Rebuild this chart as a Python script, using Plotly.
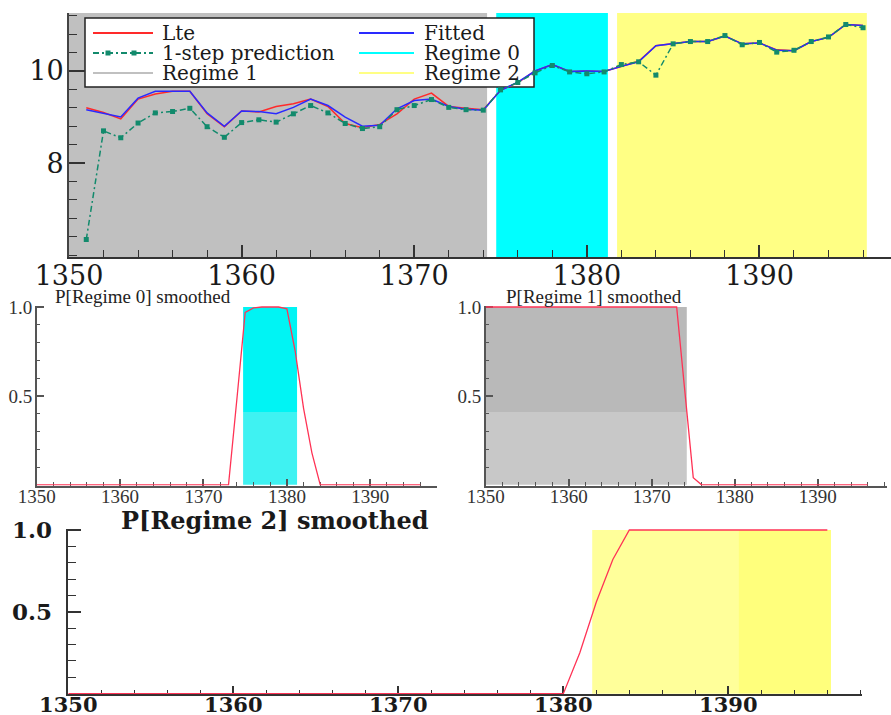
import plotly.graph_objects as go

# ---------------- data ----------------
years = list(range(1351, 1397))
lte = [9.20, 9.10, 8.96, 9.39, 9.50, 9.56, 9.56, 9.07, 8.79, 9.13,
       9.11, 9.23, 9.29, 9.39, 9.23, 8.86, 8.77, 8.84, 9.07, 9.39,
       9.52, 9.23, 9.19, 9.16, 9.58, 9.75, 10.00, 10.14, 9.99, 10.00,
       9.99, 10.10, 10.21, 10.55, 10.59, 10.64, 10.64, 10.76, 10.59, 10.61,
       10.46, 10.44, 10.64, 10.73, 11.01, 10.99]
fitted = [9.16, 9.08, 9.00, 9.41, 9.56, 9.56, 9.56, 9.09, 8.80, 9.13,
          9.12, 9.07, 9.21, 9.39, 9.25, 9.00, 8.80, 8.82, 9.18, 9.36,
          9.39, 9.23, 9.17, 9.15, 9.58, 9.76, 10.00, 10.14, 9.99, 10.00,
          9.99, 10.10, 10.20, 10.55, 10.59, 10.64, 10.64, 10.76, 10.59, 10.61,
          10.45, 10.44, 10.64, 10.73, 11.01, 10.99]
pred = [6.34, 8.70, 8.55, 8.87, 9.09, 9.12, 9.19, 8.79, 8.56, 8.88,
        8.94, 8.89, 9.07, 9.25, 9.09, 8.86, 8.75, 8.79, 9.16, 9.25,
        9.38, 9.21, 9.16, 9.15, 9.59, 9.75, 9.96, 10.12, 9.98, 9.94,
        9.98, 10.14, 10.20, 9.91, 10.59, 10.64, 10.64, 10.77, 10.57, 10.62,
        10.41, 10.45, 10.64, 10.74, 11.01, 10.94]

prob_years = list(range(1350, 1397))
p_regime0 = [0]*24 + [0.48, 0.97, 0.995, 1.0, 1.0, 1.0, 0.99, 0.75, 0.43, 0.18] + [0]*13
p_regime1 = [1.0]*24 + [0.52, 0.04, 0.0] + [0]*20
p_regime2 = [0]*31 + [0.25, 0.56, 0.82] + [1.0]*13

# regime classification (start year, end year)
regime_names = ["Regime 0", "Regime 1", "Regime 2"]
regime_start = [1375, 1350, 1382]
regime_end = [1381, 1374, 1396]

x_labels = [1350, 1360, 1370, 1380, 1390]
top_y_labels = [8, 10]
prob_y_labels = [0.5, 1.0]

# ---------------- styling ----------------
W, H = 891, 715
def px(x):
    return x / W
def py(y):
    return 1 - y / H

RED = "#ff2a2a"
BLUE = "#2a2aff"
TEAL = "#128a6c"
PRED_RED = "#ff3355"
GREY = "#c0c0c0"
CYAN = "#00ffff"
YELLOW = "#ffff84"
PAD_L, PAD_R = 0.25, 0.22

fig = go.Figure()

# top panel traces
fig.add_trace(go.Scatter(x=years, y=lte, mode="lines", line=dict(color=RED, width=1.5),
                         xaxis="x", yaxis="y", showlegend=False))
fig.add_trace(go.Scatter(x=years, y=fitted, mode="lines", line=dict(color=BLUE, width=1.5),
                         xaxis="x", yaxis="y", showlegend=False))
fig.add_trace(go.Scatter(x=years, y=pred, mode="lines+markers",
                         line=dict(color=TEAL, width=1.5, dash="6px,3px,2px,3px"),
                         marker=dict(symbol="square", size=5, color=TEAL),
                         xaxis="x", yaxis="y", showlegend=False))
# probability panels
fig.add_trace(go.Scatter(x=prob_years, y=p_regime0, mode="lines", line=dict(color=PRED_RED, width=1.3),
                         xaxis="x2", yaxis="y2", showlegend=False))
fig.add_trace(go.Scatter(x=prob_years, y=p_regime1, mode="lines", line=dict(color=PRED_RED, width=1.3),
                         xaxis="x3", yaxis="y3", showlegend=False))
fig.add_trace(go.Scatter(x=prob_years, y=p_regime2, mode="lines", line=dict(color=PRED_RED, width=1.3),
                         xaxis="x4", yaxis="y4", showlegend=False))

shapes = []
regime_colors = [CYAN, GREY, YELLOW]
# top panel regime shading
for s, e, c in zip(regime_start, regime_end, regime_colors):
    shapes.append(dict(type="rect", xref="x", yref="y domain", x0=max(s - PAD_L, 1350), x1=e + PAD_R,
                       y0=0, y1=1, fillcolor=c, line=dict(width=0), layer="below"))

# probability panel shading (two-tone as in the scanned figure)
def shade(xr, yr, s, e, c_top, c_bot):
    x0 = max(s - PAD_L, 1350)
    x1 = e + PAD_R
    shapes.append(dict(type="rect", xref=xr, yref=yr, x0=x0, x1=x1, y0=0.41, y1=1.0,
                       fillcolor=c_top, line=dict(width=0), layer="below"))
    shapes.append(dict(type="rect", xref=xr, yref=yr, x0=x0, x1=x1, y0=0, y1=0.41,
                       fillcolor=c_bot, line=dict(width=0), layer="below"))

shade("x2", "y2", regime_start[0], regime_end[0], "#00f4f4", "#3ff2f2")
shade("x3", "y3", regime_start[1], regime_end[1], "#b9b9b9", "#c8c8c8")
# bottom yellow (slightly two-tone horizontally)
shapes.append(dict(type="rect", xref="x4", yref="y4", x0=regime_start[2] - PAD_L, x1=1390.6,
                   y0=0, y1=1.0, fillcolor="#ffff9a", line=dict(width=0), layer="below"))
shapes.append(dict(type="rect", xref="x4", yref="y4", x0=1390.6, x1=regime_end[2] + PAD_R,
                   y0=0, y1=1.0, fillcolor="#ffff7c", line=dict(width=0), layer="below"))

# manual legend box
shapes.append(dict(type="rect", xref="paper", yref="paper", x0=px(85), x1=px(534), y0=py(87), y1=py(18),
                   fillcolor="white", line=dict(color="#222", width=1.5), layer="below"))
rows = [33, 53, 73]
def sample(x0, x1, y, color, dash="solid"):
    shapes.append(dict(type="line", xref="paper", yref="paper", x0=px(x0), x1=px(x1), y0=py(y), y1=py(y),
                       line=dict(color=color, width=2, dash=dash), layer="below"))
sample(93, 153, rows[0], RED)
sample(93, 153, rows[1], TEAL, "6px,3px,2px,3px")
for mx in (108, 134):
    shapes.append(dict(type="rect", xref="paper", yref="paper", x0=px(mx - 2.5), x1=px(mx + 2.5),
                       y0=py(rows[1] + 2.5), y1=py(rows[1] - 2.5), fillcolor=TEAL,
                       line=dict(width=0), layer="below"))
sample(93, 153, rows[2], GREY)
sample(359, 414, rows[0], BLUE)
sample(359, 414, rows[1], CYAN)
sample(359, 414, rows[2], YELLOW)

annotations = []
LEG_FONT = dict(family="DejaVu Serif", size=20, color="#1a1a1a")
for txt, x, y in [("Lte", 160, rows[0]), ("1-step prediction", 160, rows[1]), ("Regime 1", 160, rows[2]),
                  ("Fitted", 422, rows[0]), ("Regime 0", 422, rows[1]), ("Regime 2", 422, rows[2])]:
    annotations.append(dict(text=txt, x=px(x), y=py(y), xref="paper", yref="paper",
                            xanchor="left", yanchor="middle", showarrow=False, font=LEG_FONT))

# panel titles
annotations.append(dict(text="P[Regime 0] smoothed", x=px(53), y=py(296), xref="paper", yref="paper",
                        xanchor="left", yanchor="middle", showarrow=False,
                        font=dict(family="Liberation Serif", size=19, color="#222")))
annotations.append(dict(text="P[Regime 1] smoothed", x=px(504), y=py(296), xref="paper", yref="paper",
                        xanchor="left", yanchor="middle", showarrow=False,
                        font=dict(family="Liberation Serif", size=19, color="#222")))
annotations.append(dict(text="P[Regime 2] smoothed", x=px(275), y=py(520), xref="paper", yref="paper",
                        xanchor="center", yanchor="middle", showarrow=False,
                        font=dict(family="DejaVu Serif", size=24, color="#1a1a1a", weight="bold")))

def xaxis_cfg(domain, rng, font, major_len, minor_len, linecolor, standoff):
    return dict(domain=domain, range=rng, tickmode="array", tickvals=x_labels,
                ticktext=[str(v) for v in x_labels], ticks="inside", ticklen=major_len,
                tickwidth=1.5, tickcolor=linecolor, showline=True, linecolor=linecolor, linewidth=1.5,
                showgrid=False, zeroline=False, tickfont=font, ticklabelstandoff=standoff,
                layer="below traces", automargin=False,
                minor=dict(tickmode="linear", tick0=1350, dtick=2, ticks="inside", ticklen=minor_len,
                           tickwidth=1.2, tickcolor=linecolor, showgrid=False))

def prob_yaxis(domain, font, major_len, minor_len, linecolor, standoff, anchor):
    return dict(domain=domain, range=[-0.004, 1.008], anchor=anchor, tickmode="array",
                tickvals=prob_y_labels, ticktext=["%.1f" % v for v in prob_y_labels],
                ticks="inside", ticklen=major_len,
                tickwidth=1.5, tickcolor=linecolor, showline=True, linecolor=linecolor, linewidth=1.5,
                showgrid=False, zeroline=False, tickfont=font, ticklabelstandoff=standoff,
                layer="below traces", automargin=False,
                minor=dict(tickmode="linear", tick0=0, dtick=0.1, ticks="inside", ticklen=minor_len,
                           tickwidth=1.2, tickcolor=linecolor, showgrid=False))

TOP_FONT = dict(family="DejaVu Serif", size=27, color="#1a1a1a")
MID_FONT = dict(family="Liberation Serif", size=19, color="#333")
BOT_FONT = dict(family="DejaVu Serif", size=23, color="#1a1a1a", weight="bold")
BOT_XFONT = dict(family="DejaVu Serif", size=21, color="#1a1a1a", weight="bold")

mid_dom = [py(485.5), py(305.6)]

fig.update_layout(
    width=W, height=H, margin=dict(l=0, r=0, t=0, b=0, autoexpand=False),
    paper_bgcolor="white", plot_bgcolor="rgba(0,0,0,0)", showlegend=False,
    xaxis=dict(xaxis_cfg([px(69), 1.0], [1350, 1397.62], TOP_FONT, 12, 7, "#333", -6), anchor="y"),
    yaxis=dict(domain=[py(257), py(13)], range=[5.96, 11.26], anchor="x", tickmode="array",
               tickvals=top_y_labels, ticktext=[str(v) for v in top_y_labels],
               ticks="inside", ticklen=16, tickwidth=1.5, tickcolor="#333",
               showline=True, linecolor="#444", linewidth=2, showgrid=False, zeroline=False,
               tickfont=TOP_FONT, ticklabelstandoff=-2, layer="below traces", automargin=False,
               minor=dict(tickmode="linear", tick0=0, dtick=0.4, ticks="inside", ticklen=8,
                          tickwidth=1.2, tickcolor="#333", showgrid=False)),
    xaxis2=dict(xaxis_cfg([px(36.7), px(437)], [1350, 1398], MID_FONT, 7, 4, "#555", -7), anchor="y2"),
    yaxis2=prob_yaxis(mid_dom, MID_FONT, 8, 4, "#555", -1, "x2"),
    xaxis3=dict(xaxis_cfg([px(485.7), px(886.7)], [1350, 1398.3], MID_FONT, 7, 4, "#555", -7), anchor="y3"),
    yaxis3=prob_yaxis(mid_dom, MID_FONT, 8, 4, "#555", -1, "x3"),
    xaxis4=dict(xaxis_cfg([px(68.3), px(862)], [1350, 1398.1], BOT_XFONT, 9, 5, "#333", -9), anchor="y4"),
    yaxis4=prob_yaxis([py(694.3), py(528.7)], BOT_FONT, 13, 8, "#333", 10, "x4"),
    shapes=shapes, annotations=annotations,
)

fig.write_html("out.html", config={"displayModeBar": False},
               post_script="document.body.style.margin='0px';document.body.style.overflow='hidden';")
